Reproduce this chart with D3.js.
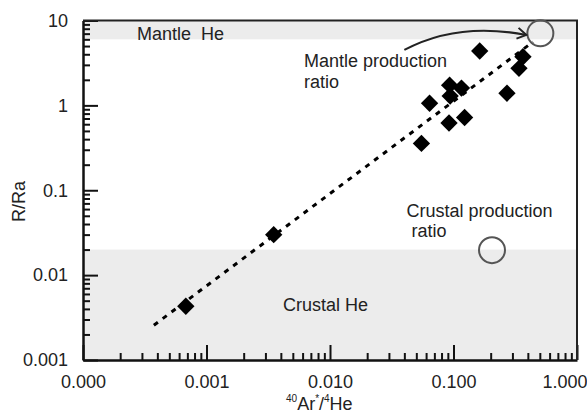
<!DOCTYPE html>
<meta charset="utf-8">
<script src="https://d3js.org/d3.v7.min.js"></script>
<style>
  body { margin: 0; background: #fff; }
  text { font-family: 'Liberation Sans', Arial, sans-serif; fill: #222; }
</style>
<body>
<div id="chart"></div>
<script>
// samples: 40Ar*/4He vs R/Ra
var arHe = [0.00068, 0.0035, 0.055, 0.064, 0.092, 0.123, 0.093, 0.116, 0.094, 0.163, 0.365, 0.339, 0.271];
var rRa  = [0.0043, 0.030, 0.356, 1.06, 0.62, 0.72, 1.73, 1.60, 1.29, 4.37, 3.74, 2.73, 1.39];

// production ratios (open circles)
var prodNames = ["Mantle", "Crustal"];
var prodArHe = [0.505, 0.205];
var prodRRa = [7.07, 0.0197];

// dashed mixing line end points
var trendArHe = [0.000375, 0.44];
var trendRRa = [0.00257, 5.6];

// shaded fields
var mantleHeMin = 6;
var crustalHeMax = 0.02;

// arrow (start, control, end)
var arrowArHe = [0.040, 0.108, 0.389];
var arrowRRa = [4.5, 9.7, 6.75];

var xTicks = [0.0001, 0.001, 0.01, 0.1, 1];
var yTicks = [0.001, 0.01, 0.1, 1, 10];
var yTickLabels = ["0.001", "0.01", "0.1", "1", "10"];

var W = 587, H = 415;
var mLeft = 83, mRight = 577, mTop = 20.5, mBottom = 360;

var svg = d3.select("#chart").append("svg")
    .attr("width", W).attr("height", H);

var x = d3.scaleLog().domain([0.0001, 1]).range([mLeft, mRight]);
var y = d3.scaleLog().domain([0.001, 10]).range([mBottom, mTop]);

// bands
svg.append("rect")
    .attr("x", mLeft).attr("width", mRight - mLeft)
    .attr("y", y(10)).attr("height", y(mantleHeMin) - y(10))
    .attr("fill", "#ececec");
svg.append("rect")
    .attr("x", mLeft).attr("width", mRight - mLeft)
    .attr("y", y(crustalHeMax)).attr("height", y(0.001) - y(crustalHeMax))
    .attr("fill", "#ececec");

// minor ticks
function minors(lo, hi) {
  var out = [];
  for (var e = lo; e < hi; e++)
    for (var m = 2; m <= 9; m++) out.push(m * Math.pow(10, e));
  return out;
}

svg.append("g")
    .attr("transform", "translate(0," + mBottom + ")")
    .call(d3.axisBottom(x).tickValues(minors(-4, 0)).tickSize(-7).tickSizeOuter(0).tickFormat(""))
    .call(function(g) { g.select(".domain").remove(); });
svg.append("g")
    .attr("transform", "translate(" + mLeft + ",0)")
    .call(d3.axisLeft(y).tickValues(minors(-3, 1)).tickSize(-7).tickSizeOuter(0).tickFormat(""))
    .call(function(g) { g.select(".domain").remove(); });

// major ticks + labels
var xAxis = svg.append("g")
    .attr("transform", "translate(0," + mBottom + ")")
    .call(d3.axisBottom(x).tickValues(xTicks).tickSize(-15).tickSizeOuter(0)
      .tickPadding(15).tickFormat(d3.format(".3f")));
var yAxis = svg.append("g")
    .attr("transform", "translate(" + mLeft + ",0)")
    .call(d3.axisLeft(y).tickValues(yTicks).tickSize(-15).tickSizeOuter(0)
      .tickPadding(15).tickFormat(function(d, i) { return yTickLabels[i]; }));

svg.selectAll(".tick line").attr("stroke", "#111").attr("stroke-width", 2);
svg.selectAll(".tick text").attr("font-size", 18).attr("fill", "#222")
    .attr("font-family", "'Liberation Sans', Arial, sans-serif");
svg.selectAll(".domain").attr("stroke", "#111").attr("stroke-width", 2.5);
// last x label sits against the right edge
xAxis.selectAll(".tick text").filter(function(d) { return d === 1; })
    .attr("text-anchor", "end").attr("x", 10);

// frame top / right
svg.append("path")
    .attr("d", "M" + mLeft + "," + mTop + "H" + mRight + "V" + mBottom)
    .attr("fill", "none").attr("stroke", "#222").attr("stroke-width", 2);

// dashed line
svg.append("line")
    .attr("x1", x(trendArHe[0])).attr("y1", y(trendRRa[0]))
    .attr("x2", x(trendArHe[1])).attr("y2", y(trendRRa[1]))
    .attr("stroke", "#000").attr("stroke-width", 3)
    .attr("stroke-dasharray", "5,6");

// diamonds
svg.append("g").selectAll("path")
  .data(arHe)
  .enter().append("path")
    .attr("d", d3.symbol(d3.symbolSquare, 150))
    .attr("transform", function(d, i) {
      return "translate(" + x(d) + "," + y(rRa[i]) + ") rotate(45)";
    })
    .attr("fill", "#000");

// production ratio circles
svg.append("g").selectAll("circle")
  .data(prodNames)
  .enter().append("circle")
    .attr("cx", function(d, i) { return x(prodArHe[i]); })
    .attr("cy", function(d, i) { return y(prodRRa[i]); })
    .attr("r", 13)
    .attr("fill", "none")
    .attr("stroke", "#555")
    .attr("stroke-width", 2);

// arrow
svg.append("defs").append("marker")
    .attr("id", "arr")
    .attr("markerUnits", "userSpaceOnUse")
    .attr("markerWidth", 14).attr("markerHeight", 14)
    .attr("refX", 11).attr("refY", 7)
    .attr("orient", "auto")
  .append("path")
    .attr("d", "M2,1.5L11,7L2,12.5")
    .attr("fill", "none").attr("stroke", "#222").attr("stroke-width", 2);

var p = d3.path();
p.moveTo(x(arrowArHe[0]), y(arrowRRa[0]));
p.quadraticCurveTo(x(arrowArHe[1]), y(arrowRRa[1]), x(arrowArHe[2]), y(arrowRRa[2]));
svg.append("path")
    .attr("d", p.toString())
    .attr("fill", "none").attr("stroke", "#222").attr("stroke-width", 2)
    .attr("marker-end", "url(#arr)");

// annotations
function label(tx, ty, str) {
  svg.append("text")
      .attr("x", tx).attr("y", ty)
      .attr("font-size", 18)
      .style("white-space", "pre")
      .text(str);
}
label(137, 39.5, "Mantle  He");
label(304, 67, "Mantle production");
label(304, 88, "ratio");
label(406.5, 217, "Crustal production");
label(406.5, 237, " ratio");
label(283, 311, "Crustal He");

// axis titles
svg.append("text")
    .attr("transform", "translate(25,201.5) rotate(-90)")
    .attr("text-anchor", "middle")
    .attr("font-size", 18)
    .text("R/Ra");

var t = svg.append("text")
    .attr("x", 286).attr("y", 410)
    .attr("font-size", 18);
t.append("tspan").attr("font-size", 10).attr("dy", -8).text("40");
t.append("tspan").attr("dy", 8).text("Ar");
t.append("tspan").attr("font-size", 10).attr("dy", -8).text("*");
t.append("tspan").attr("dy", 8).text("/");
t.append("tspan").attr("font-size", 10).attr("dy", -8).text("4");
t.append("tspan").attr("dy", 8).text("He");
</script>
</body>
